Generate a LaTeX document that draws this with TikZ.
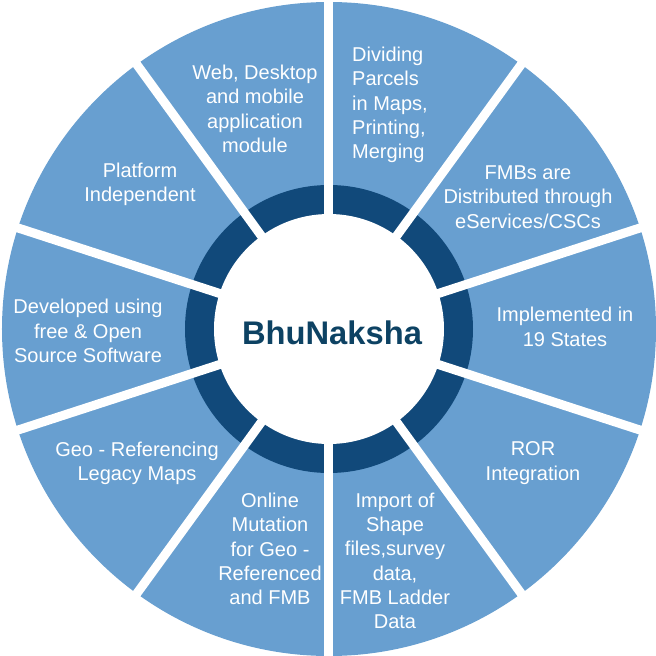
\documentclass[tikz,border=0pt]{standalone}
\usepackage{fontspec}
\setmainfont{Liberation Sans}
\definecolor{segblau}{HTML}{689FD0}
\definecolor{ringblau}{HTML}{11497A}
\definecolor{titelblau}{HTML}{0D4263}
\begin{document}
\begin{tikzpicture}[x=1pt, y=1pt,
				seg/.style={text=white, align=center, inner sep=0pt, font=\fontsize{20}{24.3}\selectfont},
				titel/.style={text=titelblau, inner sep=0pt, font=\fontsize{32.7}{36}\selectfont\bfseries}]
				\useasboundingbox (-329,-327) rectangle (327,329);
				% Kreisflaechen zeichnen
				\fill[segblau] (0,0) circle (327);
				\fill[ringblau] (0,0) circle (144);
				\fill[white] (0,0) circle (115);
				% Luecken zwischen den Segmenten
				\foreach \w in {90,54,...,-234} \draw[white, line width=9pt] (0,0) -- (\w:345);
				% Mitte
				\node[titel] (bhu) at (3,-4) {BhuNaksha};
				% Segmente beschriften
				\node[seg] (web) at (-74,220) {Web, Desktop\\and mobile\\application\\module};
				\node[seg, align=left, anchor=west] (teilen) at (23,224) {Dividing\\Parcels\\in Maps,\\Printing,\\Merging};
				\node[seg] (fmb) at (199,132) {FMBs are\\Distributed through\\eServices/CSCs};
				\node[seg] (staaten) at (236,2) {Implemented in\\19 States};
				\node[seg] (ror) at (204,-134) {ROR\\Integration};
				\node[seg] (import) at (66,-232) {Import of\\Shape\\files,survey\\data,\\FMB Ladder\\Data};
				\node[seg] (mutation) at (-59,-220) {Online\\Mutation\\for Geo -\\Referenced\\and FMB};
				\node[seg] (geo) at (-192,-134) {Geo - Referencing\\Legacy Maps};
				\node[seg] (open) at (-241,-2) {Developed using\\free \& Open\\Source Software};
				\node[seg] (platt) at (-189,145) {Platform\\Independent};
\end{tikzpicture}
\end{document}
